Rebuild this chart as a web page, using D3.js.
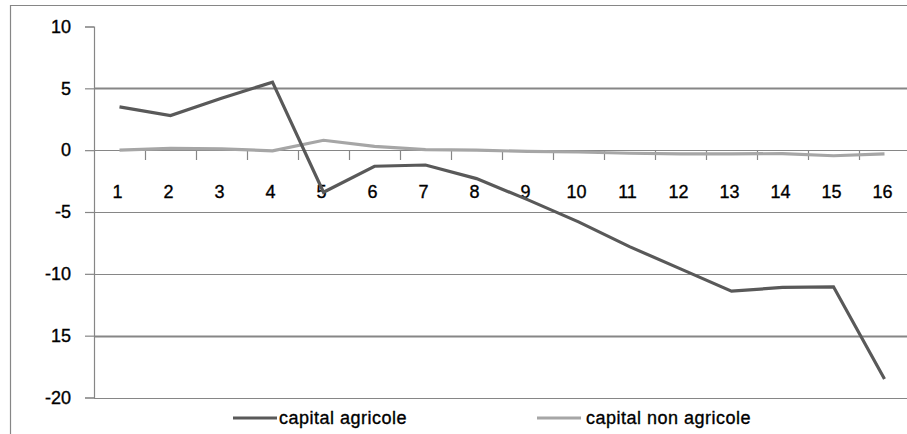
<!DOCTYPE html>
<html>
<head>
<meta charset="utf-8">
<script src="https://cdn.jsdelivr.net/npm/d3@7"></script>
<style>
  body { margin: 0; background: #fff; }
  text { font-family: "Liberation Sans", Arial, sans-serif; fill: #000; stroke: #000; stroke-width: 0.35px; }
</style>
</head>
<body>
<div id="chartDiv"></div>
<script>
// categories 1..16
const categories = ["1","2","3","4","5","6","7","8","9","10","11","12","13","14","15","16"];
const capitalAgricole = [3.5, 2.8, 4.2, 5.5, -3.4, -1.3, -1.2, -2.3, -4.0, -5.8, -7.8, -9.6, -11.4, -11.1, -11.05, -18.5];
const capitalNonAgricole = [0.0, 0.15, 0.1, -0.05, 0.8, 0.3, 0.05, 0.0, -0.1, -0.15, -0.25, -0.3, -0.3, -0.28, -0.45, -0.3];
const yTicks = [10, 5, 0, -5, -10, -15, -20];
// labels as printed on the chart (the minus of -15 and 5 is lost in the original)
const yTickLabels = ["10", "5", "0", "-5", "-10", "15", "-20"];
const seriesNames = ["capital agricole", "capital non agricole"];
const seriesColors = ["#595959", "#a6a6a6"];

const width = 907, height = 434;

let svg = d3.select("#chartDiv").append("svg")
    .attr("width", width)
    .attr("height", height);

// outer chart frame
svg.append("path")
    .attr("d", "M10.5,440 V5.5 H920")
    .attr("fill", "none")
    .attr("stroke", "#868686")
    .attr("stroke-width", 1.2);

let x = d3.scaleBand()
    .domain(categories)
    .range([94, 910])
    .padding(0);

let y = d3.scaleLinear()
    .domain([-20, 10])
    .range([397.5, 26.5]);

// horizontal gridlines (no line at the top value)
svg.append("g")
    .selectAll("line")
    .data(yTicks.filter(d => d !== 10))
    .enter()
    .append("line")
    .attr("x1", 94)
    .attr("x2", 910)
    .attr("y1", d => Math.round(y(d)) + 0.5)
    .attr("y2", d => Math.round(y(d)) + 0.5)
    .attr("stroke", "#868686")
    .attr("stroke-width", d => (d === 5 || d === -15) ? 2 : 1.2);

// y axis
let yAxis = d3.axisLeft(y)
    .tickValues(yTicks)
    .tickSize(9)
    .tickPadding(14)
    .tickFormat((d, i) => yTickLabels[i]);

let yG = svg.append("g")
    .attr("transform", "translate(94,0)")
    .call(yAxis);
yG.select(".domain").attr("stroke", "#868686").attr("stroke-width", 1.2);
yG.selectAll(".tick line").attr("stroke", "#868686").attr("stroke-width", 1.2);
yG.selectAll(".tick text")
    .attr("font-size", 18)
    .attr("font-family", null)
    .attr("fill", "#000");

// x axis sits on zero: boundary tick marks plus category labels below
let xG = svg.append("g")
    .attr("transform", `translate(0,${Math.round(y(0))})`);

xG.selectAll("line.boundary")
    .data(categories)
    .enter()
    .append("line")
    .attr("class", "boundary")
    .attr("x1", d => Math.round(x(d) + x.step()) + 0.5)
    .attr("x2", d => Math.round(x(d) + x.step()) + 0.5)
    .attr("y1", 0)
    .attr("y2", 10)
    .attr("stroke", "#868686")
    .attr("stroke-width", 1.2);

xG.selectAll("text.catLabel")
    .data(categories)
    .enter()
    .append("text")
    .attr("class", "catLabel")
    .attr("x", d => x(d) + x.bandwidth() / 2 - 2)
    .attr("y", 48)
    .style("text-anchor", "middle")
    .attr("font-size", 18)
    .text(d => d);

// lines
let line = d3.line()
    .x((d, i) => x(categories[i]) + x.bandwidth() / 2)
    .y(d => y(d));

[capitalNonAgricole, capitalAgricole].forEach((series, k) => {
    let idx = k === 0 ? 1 : 0;
    svg.append("path")
        .datum(series)
        .attr("fill", "none")
        .attr("stroke", seriesColors[idx])
        .attr("stroke-width", 3.2)
        .attr("stroke-linejoin", "miter")
        .attr("d", line);
});

// legend
const legendX = [233, 537];
seriesNames.forEach((name, i) => {
    let g = svg.append("g").attr("transform", `translate(${legendX[i]},418)`);
    g.append("line")
        .attr("x1", 0).attr("x2", 44)
        .attr("y1", 0).attr("y2", 0)
        .attr("stroke", seriesColors[i])
        .attr("stroke-width", 3.2);
    g.append("text")
        .attr("x", 46 + i * 3)
        .attr("y", 6)
        .attr("font-size", 18)
        .style("letter-spacing", "0.5px")
        .text(name);
});
</script>
</body>
</html>
